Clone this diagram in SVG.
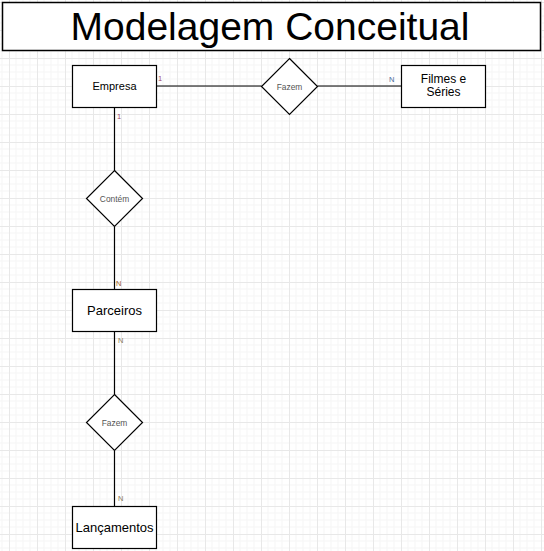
<svg xmlns="http://www.w3.org/2000/svg" width="544" height="551" viewBox="0 0 544 551">
  <defs>
    <pattern id="grid" patternUnits="userSpaceOnUse" x="9" y="2" width="28" height="28">
      <path d="M7 0V28M14 0V28M21 0V28M0 7H28M0 14H28M0 21H28" stroke="#f5f5f5" stroke-width="1" fill="none"/>
      <path d="M0.5 0V28M0 0.5H28" stroke="#e8e8e8" stroke-width="1" fill="none"/>
    </pattern>
    <style>
      .box{fill:#fff;stroke:#000;stroke-width:1.2}
      .dia{fill:#fff;stroke:#000;stroke-width:1.2}
      .lbl{font-family:"Liberation Sans",Arial,sans-serif;fill:#000;text-anchor:middle}
      .rel{font-family:"Liberation Sans",Arial,sans-serif;fill:#555;text-anchor:middle;font-size:8.4px}
      .card{font-family:"Liberation Sans",Arial,sans-serif;font-size:7.5px}
      .conn{stroke:#000;stroke-width:1.2;fill:none}
    </style>
  </defs>
  <rect width="544" height="551" fill="#fff"/>
  <rect width="544" height="551" fill="url(#grid)"/>

  <g id="title">
    <rect x="2.5" y="2.5" width="538" height="48" fill="#fff" stroke="#000" stroke-width="1.5"/>
    <text class="lbl" x="270" y="40" font-size="39">Modelagem Conceitual</text>
  </g>

  <g id="connectors">
    <path class="conn" d="M156 86H261.5"/>
    <path class="conn" d="M317.5 86H401"/>
    <path class="conn" d="M114.5 107V170.5"/>
    <path class="conn" d="M114.5 226.5V289"/>
    <path class="conn" d="M114.5 331V394.5"/>
    <path class="conn" d="M114.5 450.5V506"/>
    <text class="card" x="158" y="81" fill="#a04a6a">1</text>
    <text class="card" x="117" y="119" fill="#a04a6a">1</text>
    <text class="card" x="389" y="82" fill="#4a6a9a">N</text>
    <text class="card" x="116" y="286" fill="#a0642a">N</text>
    <text class="card" x="118" y="343" fill="#8a7a5a">N</text>
    <text class="card" x="118" y="501" fill="#8a7a5a">N</text>
  </g>

  <g id="empresa">
    <rect class="box" x="72.5" y="65.5" width="84" height="42"/>
    <text class="lbl" x="114.5" y="90" font-size="11">Empresa</text>
  </g>

  <g id="fazem1">
    <path class="dia" d="M289.5 58.5L317.5 86.5L289.5 114.5L261.5 86.5Z"/>
    <text class="rel" x="289.5" y="89.5">Fazem</text>
  </g>

  <g id="filmes">
    <rect class="box" x="401.5" y="65.5" width="84" height="42"/>
    <text class="lbl" x="443.5" y="83" font-size="12">Filmes e</text>
    <text class="lbl" x="443.5" y="96" font-size="12">Séries</text>
  </g>

  <g id="contem">
    <path class="dia" d="M114.5 170.5L142.5 198.5L114.5 226.5L86.5 198.5Z"/>
    <text class="rel" x="114.5" y="201.5">Contém</text>
  </g>

  <g id="parceiros">
    <rect class="box" x="72.5" y="289.5" width="84" height="42"/>
    <text class="lbl" x="114.5" y="314.5" font-size="13">Parceiros</text>
  </g>

  <g id="fazem2">
    <path class="dia" d="M114.5 394.5L142.5 422.5L114.5 450.5L86.5 422.5Z"/>
    <text class="rel" x="114.5" y="425.5">Fazem</text>
  </g>

  <g id="lancamentos">
    <rect class="box" x="72.5" y="506.5" width="84" height="42"/>
    <text class="lbl" x="114.5" y="531.5" font-size="13">Lançamentos</text>
  </g>
</svg>
